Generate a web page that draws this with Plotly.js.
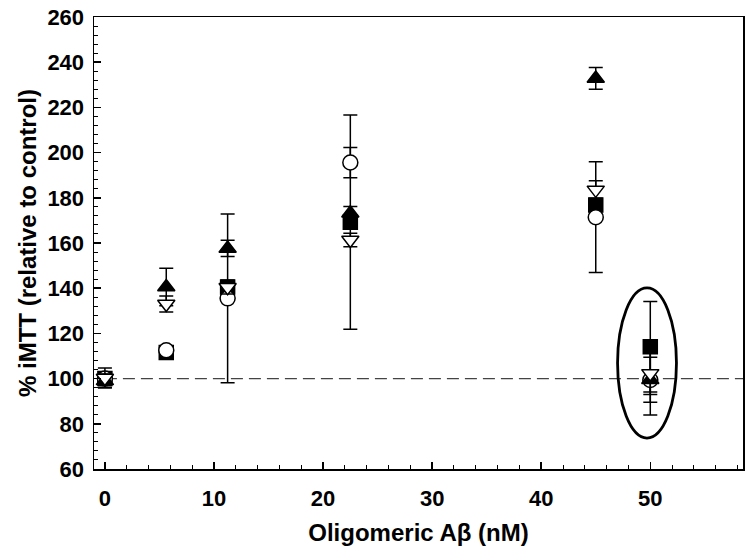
<!DOCTYPE html>
<html>
<head>
<meta charset="utf-8">
<script src="https://cdn.plot.ly/plotly-3.0.1.min.js"></script>
<style>html,body{margin:0;padding:0;background:#fff;}#chart{width:751px;height:559px;}</style>
</head>
<body>
<div id="chart"></div>
<script>
// Concentrations (nM)
const conc = [0, 5.625, 11.25, 22.5, 45, 50];

// Series values (% iMTT relative to control) and error (±)
const triUpVals   = [99, 140.5, 157.6, 173.2, 232.8, 99.5];
const triUpErr    = [3, 8.3, 3.6, 3, 4.8, 10];
const squareVals  = [100, 111.5, 140.5, 169.2, 176.8, 114.1];
const squareErr   = [3, 2, 3, 47.4, 3, 20];
const circleVals  = [100, 112.5, 135.5, 195.6, 171.4, 99.4];
const circleErr   = [3, 1, 37.3, 6.7, 24.5, 15.5];
const triDownVals = [100.3, 133, 140.4, 161.3, 183.5, 102.3];
const triDownErr  = [4.4, 3.5, 3, 3, 4, 9.3];

const xTickVals = [0, 10, 20, 30, 40, 50];
const yTickVals = [60, 80, 100, 120, 140, 160, 180, 200, 220, 240, 260];

function series(y, err, symbol, fill, size) {
  return {
    type: 'scatter', mode: 'markers', x: conc, y: y,
    error_y: {type: 'data', array: err, visible: true, color: '#000', thickness: 1.5, width: 7},
    marker: {symbol: symbol, size: size, color: fill, line: {color: '#000', width: 1.5}},
    showlegend: false, hoverinfo: 'x+y'
  };
}

const data = [
  series(squareVals, squareErr, 'square', '#000', 14),
  series(circleVals, circleErr, 'circle', '#fff', 15),
  series(triUpVals, triUpErr, 'triangle-up', '#000', 15),
  series(triDownVals, triDownErr, 'triangle-down', '#fff', 15)
];

const font = {family: '"Liberation Sans", Arial, sans-serif', color: '#000'};

const layout = {
  width: 751, height: 559,
  margin: {l: 94, r: 8, t: 17, b: 90},
  paper_bgcolor: '#fff', plot_bgcolor: '#fff',
  font: font,
  xaxis: {
    range: [-1.0, 58.5],
    tickvals: xTickVals, ticktext: xTickVals.map(String),
    ticks: 'inside', ticklen: 7, tickwidth: 1.5, tickcolor: '#000',
    minor: {dtick: 2, tick0: 0, ticks: 'inside', ticklen: 4, tickwidth: 1, tickcolor: '#000'},
    showline: true, linecolor: '#000', linewidth: 1.5, mirror: true,
    showgrid: false, zeroline: false,
    ticklabelstandoff: 9,
    tickfont: {family: font.family, size: 22, weight: 'bold', color: '#000'},
    title: {text: 'Oligomeric A\u03B2 (nM)', standoff: 14,
            font: {family: font.family, size: 24, weight: 'bold', color: '#000'}}
  },
  yaxis: {
    range: [60, 260],
    tickvals: yTickVals, ticktext: yTickVals.map(String),
    ticks: 'inside', ticklen: 7, tickwidth: 1.5, tickcolor: '#000',
    minor: {dtick: 4, tick0: 60, ticks: 'inside', ticklen: 4, tickwidth: 1, tickcolor: '#000'},
    showline: true, linecolor: '#000', linewidth: 1.5, mirror: true,
    showgrid: false, zeroline: false,
    ticklabelstandoff: 4,
    tickfont: {family: font.family, size: 22, weight: 'bold', color: '#000'},
    title: {text: '% iMTT (relative to control)', standoff: 4,
            font: {family: font.family, size: 24, weight: 'bold', color: '#000'}}
  },
  shapes: [
    {type: 'line', xref: 'x', yref: 'y', x0: 0, x1: 58.5, y0: 100, y1: 100,
     line: {color: '#444', width: 1.2, dash: '12px,6px'}, layer: 'below'},
    {type: 'circle', xref: 'x', yref: 'y', x0: 47.0, x1: 52.4, y0: 73.7, y1: 140.1,
     line: {color: '#000', width: 2.8}, fillcolor: 'rgba(0,0,0,0)', layer: 'above'}
  ]
};

Plotly.newPlot('chart', data, layout, {displayModeBar: false, staticPlot: true});
</script>
</body>
</html>
